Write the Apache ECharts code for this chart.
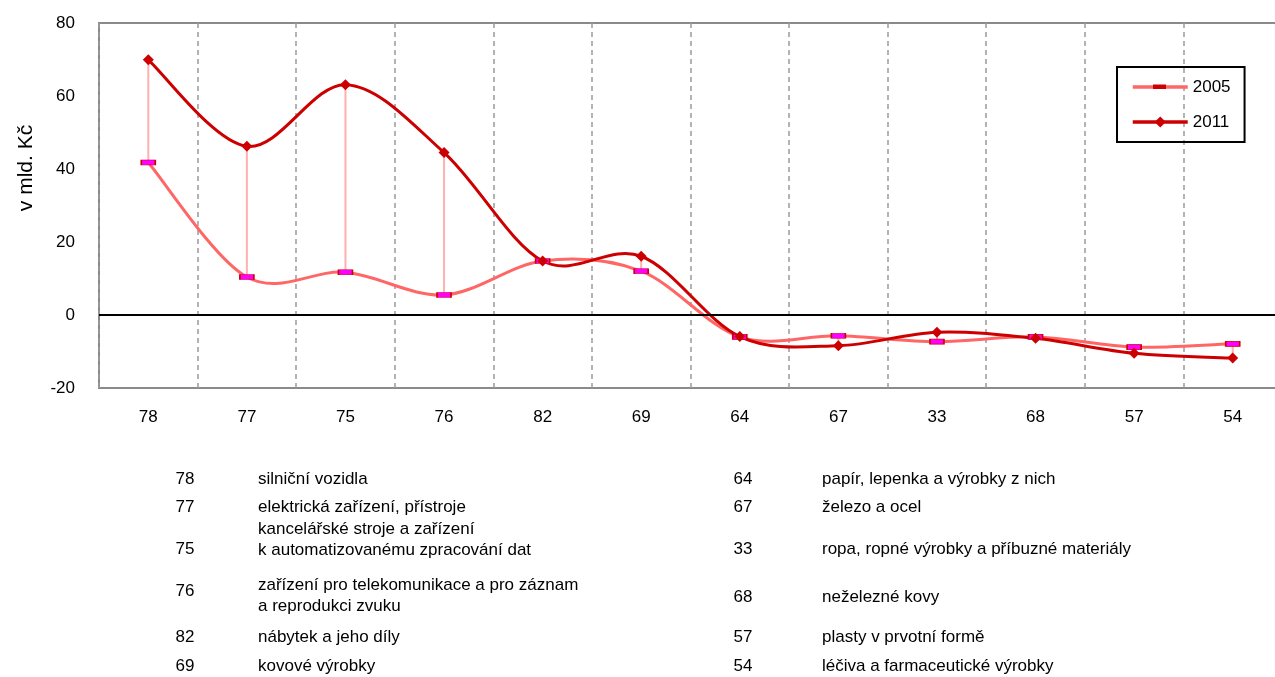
<!DOCTYPE html>
<html>
<head>
<meta charset="utf-8">
<script src="https://cdn.jsdelivr.net/npm/echarts@6/dist/echarts.min.js"></script>
<style>
html,body{margin:0;padding:0;background:#fff;}
#c{width:1275px;height:677px;}
</style>
</head>
<body>
<div id="c"></div>
<script>
// ---- data ----
var categories = ['78','77','75','76','82','69','64','67','33','68','57','54'];
var values2005 = [41.8, 10.4, 11.7, 5.5, 14.8, 12.0, -6.0, -5.7, -7.3, -6.0, -8.8, -7.9];
var values2011 = [69.9, 46.2, 63.1, 44.5, 14.8, 16.1, -5.9, -8.4, -4.7, -6.4, -10.5, -11.8];
var yTicks = [-20, 0, 20, 40, 60, 80];
var seriesNames = ['2005', '2011'];
var yAxisTitle = 'v mld. Kč';

var legendLeftCodes = ['78','77','75','76','82','69'];
var legendLeftTexts = [
  'silniční vozidla',
  'elektrická zařízení, přístroje',
  'kancelářské stroje a zařízení\nk automatizovanému zpracování dat',
  'zařízení pro telekomunikace a pro záznam\na reprodukci zvuku',
  'nábytek a jeho díly',
  'kovové výrobky'
];
var legendRightCodes = ['64','67','33','68','57','54'];
var legendRightTexts = [
  'papír, lepenka a výrobky z nich',
  'železo a ocel',
  'ropa, ropné výrobky a příbuzné materiály',
  'neželezné kovy',
  'plasty v prvotní formě',
  'léčiva a farmaceutické výrobky'
];

// ---- layout (positions / styles only) ----
var FONT = '"Liberation Sans", Arial, sans-serif';
var leftCodeY = [479, 507, 549, 591, 637, 666];
var leftTextY = [479, 507, 540, 596, 637, 666];
var rightY = [479, 507, 549, 597, 637, 666];

var graphics = [];
graphics.push({
  type: 'text', x: 26, y: 168, rotation: Math.PI / 2,
  style: { text: yAxisTitle, font: '21px ' + FONT, fill: '#000', align: 'center', verticalAlign: 'middle' }
});
function addText(x, y, txt, align) {
  graphics.push({
    type: 'text', x: x, y: y,
    style: { text: txt, font: '17px ' + FONT, fill: '#000', align: align, verticalAlign: 'middle', lineHeight: 21 }
  });
}
for (var i = 0; i < legendLeftCodes.length; i++) {
  addText(185, leftCodeY[i], legendLeftCodes[i], 'center');
  addText(258, leftTextY[i], legendLeftTexts[i], 'left');
  addText(743, rightY[i], legendRightCodes[i], 'center');
  addText(822, rightY[i], legendRightTexts[i], 'left');
}
// dash marker of the 2005 legend entry
graphics.push({
  type: 'rect', z: 100, shape: { x: 1153, y: 84.5, width: 13, height: 4.5 },
  style: { fill: '#CC0000' }
});

var hiLo = categories.map(function (c, i) { return [i, values2005[i], values2011[i]]; });

// smoothed curve (Excel-like Catmull-Rom bezier) drawn via the axis scales
function curveSeries(values, color, z) {
  return {
    type: 'custom',
    z: z,
    silent: true,
    data: values.map(function (v, i) { return [i, v]; }),
    encode: { x: 0, y: 1 },
    renderItem: function (params, api) {
      var i = params.dataIndex;
      var n = values.length;
      if (i >= n - 1) return null;
      var p = function (k) {
        k = Math.max(0, Math.min(n - 1, k));
        return api.coord([k, values[k]]);
      };
      var p0 = p(i - 1), p1 = p(i), p2 = p(i + 1), p3 = p(i + 2);
      var t = 1 / 6;
      return {
        type: 'bezierCurve',
        shape: {
          x1: p1[0], y1: p1[1], x2: p2[0], y2: p2[1],
          cpx1: p1[0] + (p2[0] - p0[0]) * t, cpy1: p1[1] + (p2[1] - p0[1]) * t,
          cpx2: p2[0] - (p3[0] - p1[0]) * t, cpy2: p2[1] - (p3[1] - p1[1]) * t
        },
        style: { stroke: color, lineWidth: 3, fill: null, lineCap: 'round' }
      };
    }
  };
}

var chart = echarts.init(document.getElementById('c'), null, { renderer: 'canvas' });
chart.setOption({
  animation: false,
  backgroundColor: '#fff',
  textStyle: { fontFamily: FONT },
  grid: {
    left: 99, top: 23, width: 1183, height: 365,
    outerBoundsMode: 'none',
    show: true, borderColor: '#8a8a8a', borderWidth: 2, backgroundColor: 'transparent',
    containLabel: false
  },
  legend: {
    orient: 'vertical',
    left: 1117, top: 67,
    padding: [10, 14, 10, 14],
    borderColor: '#000', borderWidth: 2,
    itemWidth: 55, itemHeight: 14, itemGap: 15,
    textStyle: { fontSize: 17, color: '#000', fontFamily: FONT, lineHeight: 20 },
    data: [
      { name: seriesNames[0], itemStyle: { opacity: 0 }, lineStyle: { color: '#FF6666', width: 3.5, opacity: 1 } },
      { name: seriesNames[1], lineStyle: { color: '#CC0000', width: 3.5, opacity: 1 } }
    ]
  },
  xAxis: {
    type: 'category',
    data: categories,
    boundaryGap: true,
    axisLine: { show: false },
    axisTick: { show: false },
    axisLabel: { fontSize: 17, color: '#000', margin: 21, fontFamily: FONT },
    splitLine: { show: true, lineStyle: { color: '#9a9a9a', width: 1.5, type: [5, 4] } }
  },
  yAxis: {
    type: 'value',
    min: yTicks[0], max: yTicks[yTicks.length - 1], interval: 20,
    axisLine: { show: false },
    axisTick: { show: false },
    splitLine: { show: false },
    axisLabel: { fontSize: 17, color: '#000', margin: 24, fontFamily: FONT }
  },
  graphic: graphics,
  series: [
    curveSeries(values2005, '#FF6666', 2),
    curveSeries(values2011, '#CC0000', 3),
    {
      name: 'hilo',
      type: 'custom',
      z: 4,
      silent: true,
      encode: { x: 0, y: [1, 2] },
      data: hiLo,
      renderItem: function (params, api) {
        var a = api.coord([api.value(0), api.value(1)]);
        var b = api.coord([api.value(0), api.value(2)]);
        return {
          type: 'line',
          shape: { x1: a[0], y1: a[1], x2: b[0], y2: b[1] },
          style: { stroke: '#FFB0B0', lineWidth: 2 }
        };
      }
    },
    {
      name: seriesNames[0],
      type: 'line',
      z: 5,
      data: values2005,
      symbol: 'rect',
      symbolSize: [14, 5],
      showAllSymbol: true,
      lineStyle: { color: '#FF6666', width: 3, opacity: 0 },
      itemStyle: { color: '#FF00FF', borderColor: '#CC0000', borderWidth: 1 },
      markLine: {
        silent: true, symbol: 'none', label: { show: false },
        lineStyle: { color: '#000', width: 2, type: 'solid', opacity: 1 },
        data: [{ yAxis: 0 }]
      }
    },
    {
      name: seriesNames[1],
      type: 'line',
      z: 6,
      data: values2011,
      symbol: 'diamond',
      symbolSize: 11,
      showAllSymbol: true,
      lineStyle: { color: '#CC0000', width: 3, opacity: 0 },
      itemStyle: { color: '#CC0000' }
    }
  ]
});
</script>
</body>
</html>
